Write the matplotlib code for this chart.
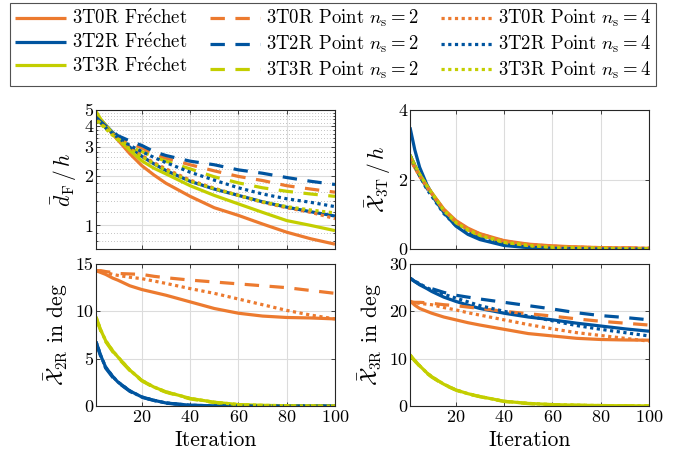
import matplotlib
matplotlib.use('Agg')
import matplotlib.pyplot as plt
from matplotlib.ticker import FixedLocator, NullFormatter

plt.rcParams['font.family'] = ['cmr10', 'DejaVu Serif']
plt.rcParams['mathtext.fontset'] = 'cm'
plt.rcParams['axes.formatter.use_mathtext'] = True

# Iteration samples
it = [1, 3, 5, 8, 10, 15, 20, 25, 30, 40, 50, 60, 70, 80, 90, 100]

# mean Frechet distance d_F / h (log axis)
df_0R_fr = [4.6, 4.3, 4.0, 3.55, 3.3, 2.72, 2.3, 2.02, 1.8, 1.5, 1.28, 1.15, 1.02, 0.91, 0.83, 0.77]
df_2R_fr = [4.7, 4.35, 4.05, 3.65, 3.42, 2.98, 2.62, 2.36, 2.15, 1.85, 1.66, 1.52, 1.39, 1.29, 1.21, 1.14]
df_3R_fr = [4.9, 4.4, 4.05, 3.6, 3.35, 2.85, 2.46, 2.22, 2.05, 1.74, 1.52, 1.35, 1.2, 1.07, 1.0, 0.93]
df_0R_p2 = [4.5, 4.25, 4.0, 3.65, 3.45, 3.15, 2.95, 2.7, 2.55, 2.33, 2.14, 1.98, 1.87, 1.74, 1.66, 1.59]
df_2R_p2 = [4.5, 4.25, 4.0, 3.7, 3.5, 3.25, 3.05, 2.8, 2.65, 2.45, 2.33, 2.17, 2.07, 1.95, 1.85, 1.77]
df_3R_p2 = [4.4, 4.15, 3.9, 3.55, 3.35, 3.0, 2.8, 2.6, 2.45, 2.2, 1.97, 1.81, 1.69, 1.61, 1.55, 1.50]
df_0R_p4 = [4.4, 4.15, 3.9, 3.55, 3.35, 2.95, 2.65, 2.4, 2.2, 1.88, 1.68, 1.52, 1.38, 1.28, 1.2, 1.10]
df_2R_p4 = [4.5, 4.2, 3.9, 3.6, 3.4, 3.05, 2.8, 2.58, 2.4, 2.1, 1.88, 1.69, 1.55, 1.45, 1.38, 1.30]
df_3R_p4 = [4.3, 4.1, 3.85, 3.5, 3.3, 2.9, 2.6, 2.37, 2.15, 1.85, 1.67, 1.52, 1.39, 1.3, 1.24, 1.19]

# translational error X_3T / h
t_0R_fr = [2.6, 2.35, 2.1, 1.8, 1.62, 1.15, 0.82, 0.6, 0.44, 0.24, 0.14, 0.09, 0.06, 0.04, 0.03, 0.02]
t_2R_fr = [3.5, 2.85, 2.35, 1.85, 1.6, 1.05, 0.66, 0.42, 0.27, 0.1, 0.04, 0.02, 0.01, 0.0, 0.0, 0.0]
t_3R_fr = [2.7, 2.4, 2.15, 1.82, 1.62, 1.12, 0.78, 0.55, 0.40, 0.2, 0.1, 0.06, 0.04, 0.02, 0.01, 0.01]
t_0R_p2 = [2.6, 2.35, 2.1, 1.8, 1.6, 1.13, 0.8, 0.58, 0.43, 0.23, 0.13, 0.08, 0.05, 0.04, 0.03, 0.02]
t_2R_p2 = [2.7, 2.4, 2.12, 1.75, 1.55, 1.05, 0.7, 0.48, 0.32, 0.14, 0.06, 0.03, 0.01, 0.0, 0.0, 0.0]
t_3R_p2 = [2.7, 2.4, 2.14, 1.8, 1.6, 1.1, 0.76, 0.54, 0.39, 0.19, 0.1, 0.05, 0.03, 0.02, 0.01, 0.01]
t_0R_p4 = [2.6, 2.34, 2.09, 1.78, 1.59, 1.12, 0.79, 0.57, 0.42, 0.22, 0.13, 0.08, 0.05, 0.04, 0.03, 0.02]
t_2R_p4 = [2.7, 2.4, 2.1, 1.72, 1.52, 1.02, 0.68, 0.46, 0.3, 0.13, 0.05, 0.02, 0.01, 0.0, 0.0, 0.0]
t_3R_p4 = [2.7, 2.41, 2.15, 1.8, 1.6, 1.1, 0.76, 0.54, 0.39, 0.19, 0.1, 0.05, 0.03, 0.02, 0.01, 0.01]

# rotational error X_2R in deg
r2_0R_fr = [14.3, 14.1, 13.9, 13.5, 13.3, 12.7, 12.3, 12.0, 11.7, 11.0, 10.3, 9.8, 9.5, 9.35, 9.3, 9.2]
r2_2R_fr = [6.8, 5.3, 4.1, 3.1, 2.55, 1.6, 0.95, 0.6, 0.32, 0.08, 0.02, 0.0, 0.0, 0.0, 0.0, 0.0]
r2_3R_fr = [9.4, 8.0, 6.9, 5.8, 5.2, 3.8, 2.7, 2.0, 1.5, 0.8, 0.4, 0.15, 0.07, 0.03, 0.01, 0.0]
r2_0R_p2 = [14.3, 14.3, 14.2, 14.1, 14.0, 13.95, 13.9, 13.7, 13.55, 13.3, 13.1, 12.9, 12.7, 12.5, 12.2, 11.9]
r2_2R_p2 = [6.7, 5.2, 4.0, 3.0, 2.5, 1.55, 0.92, 0.58, 0.3, 0.07, 0.02, 0.0, 0.0, 0.0, 0.0, 0.0]
r2_3R_p2 = [9.3, 7.9, 6.8, 5.7, 5.1, 3.75, 2.65, 1.95, 1.45, 0.75, 0.35, 0.12, 0.05, 0.02, 0.01, 0.0]
r2_0R_p4 = [14.3, 14.2, 14.1, 13.9, 13.8, 13.6, 13.45, 13.2, 12.95, 12.4, 11.9, 11.3, 10.7, 10.1, 9.6, 9.2]
r2_2R_p4 = [6.8, 5.3, 4.1, 3.1, 2.55, 1.6, 0.95, 0.6, 0.32, 0.08, 0.02, 0.0, 0.0, 0.0, 0.0, 0.0]
r2_3R_p4 = [9.4, 8.0, 6.9, 5.8, 5.2, 3.8, 2.7, 2.0, 1.5, 0.8, 0.4, 0.15, 0.07, 0.03, 0.01, 0.0]

# rotational error X_3R in deg
r3_0R_fr = [22.2, 21.3, 20.6, 20.0, 19.6, 18.8, 18.2, 17.6, 17.1, 16.2, 15.3, 14.8, 14.3, 14.05, 13.95, 13.9]
r3_2R_fr = [27.0, 26.3, 25.6, 24.8, 24.2, 23.0, 22.1, 21.3, 20.6, 19.6, 18.8, 18.2, 17.5, 16.9, 16.3, 15.8]
r3_3R_fr = [10.8, 9.6, 8.5, 7.0, 6.2, 4.6, 3.4, 2.6, 2.0, 1.0, 0.55, 0.3, 0.17, 0.1, 0.05, 0.03]
r3_0R_p2 = [22.0, 21.9, 21.9, 21.8, 21.7, 21.4, 21.2, 20.9, 20.6, 20.0, 19.5, 19.0, 18.4, 17.9, 17.5, 17.1]
r3_2R_p2 = [27.0, 26.3, 25.7, 25.1, 24.8, 24.0, 23.4, 23.0, 22.6, 21.9, 21.2, 20.5, 19.7, 19.1, 18.7, 18.2]
r3_3R_p2 = [10.7, 9.5, 8.4, 6.9, 6.1, 4.5, 3.35, 2.55, 1.95, 0.95, 0.5, 0.27, 0.15, 0.08, 0.04, 0.02]
r3_0R_p4 = [22.0, 21.8, 21.7, 21.5, 21.4, 20.8, 20.3, 19.7, 19.2, 18.2, 17.2, 16.3, 15.5, 14.9, 14.3, 13.7]
r3_2R_p4 = [27.0, 26.4, 25.8, 25.0, 24.5, 23.6, 22.8, 22.0, 21.2, 20.0, 19.0, 18.0, 17.0, 16.2, 15.5, 14.8]
r3_3R_p4 = [10.8, 9.6, 8.5, 7.0, 6.2, 4.6, 3.4, 2.6, 2.0, 1.0, 0.55, 0.3, 0.17, 0.1, 0.05, 0.03]

robots = ['3T0R', '3T2R', '3T3R']
colors = ['#EC7A2F', '#00549F', '#C3CE00']
dash = (4.5, 3.3)
dots = (1.0, 1.1)
lw = 2.3

panels = [
    [[df_0R_fr, df_2R_fr, df_3R_fr], [df_0R_p2, df_2R_p2, df_3R_p2], [df_0R_p4, df_2R_p4, df_3R_p4]],
    [[t_0R_fr, t_2R_fr, t_3R_fr], [t_0R_p2, t_2R_p2, t_3R_p2], [t_0R_p4, t_2R_p4, t_3R_p4]],
    [[r2_0R_fr, r2_2R_fr, r2_3R_fr], [r2_0R_p2, r2_2R_p2, r2_3R_p2], [r2_0R_p4, r2_2R_p4, r2_3R_p4]],
    [[r3_0R_fr, r3_2R_fr, r3_3R_fr], [r3_0R_p2, r3_2R_p2, r3_3R_p2], [r3_0R_p4, r3_2R_p4, r3_3R_p4]],
]
ylabels = [r'$\bar{d}_{\mathrm{F}}\,/\,h$', r'$\bar{\mathcal{X}}_{3\mathrm{T}}\,/\,h$',
           r'$\bar{\mathcal{X}}_{2\mathrm{R}}$ in deg', r'$\bar{\mathcal{X}}_{3\mathrm{R}}$ in deg']
ylims = [(0.72, 5), (0, 4), (0, 15), (0, 30)]
yticks = [[1, 2, 3, 4, 5], [0, 2, 4], [0, 5, 10, 15], [0, 10, 20, 30]]

fig = plt.figure(figsize=(6.88, 4.55), dpi=100)
W, H = 688, 455
boxes = [(96, 110), (410, 110), (96, 264), (410, 264)]
hgt = [139, 139, 142, 142]

handles = []
for k, (ax_data, (x0, y0)) in enumerate(zip(panels, boxes)):
    ax = fig.add_axes([x0 / W, 1 - (y0 + hgt[k]) / H, 239 / W, hgt[k] / H])
    styles = [dict(ls='-'), dict(ls=(0, dash)), dict(ls=(0, dots))]
    for m, group in enumerate(ax_data):
        for r, vals in enumerate(group):
            l, = ax.plot(it, vals, color=colors[r], lw=lw, dash_capstyle='butt',
                         solid_capstyle='butt', **styles[m])
            if k == 0:
                handles.append(l)
    if k == 0:
        ax.set_yscale('log')
        ax.yaxis.set_minor_locator(FixedLocator(
            [0.8, 0.9, 1.2, 1.4, 1.6, 1.8, 2.2, 2.4, 2.6, 2.8, 3.2, 3.4, 3.6, 3.8,
             4.2, 4.4, 4.6, 4.8]))
        ax.yaxis.set_minor_formatter(NullFormatter())
        ax.grid(True, which='minor', axis='y', ls=(0, (1, 2.5)), color='#b0b0b0', lw=0.6)
    ax.set_ylim(*ylims[k])
    ax.set_yticks(yticks[k], labels=[str(v) for v in yticks[k]])
    ax.set_xlim(1, 100)
    ax.set_xticks([20, 40, 60, 80, 100])
    if k < 2:
        ax.set_xticklabels([])
    else:
        ax.set_xlabel('Iteration', fontsize=15.5, labelpad=4)
    ax.set_ylabel(ylabels[k], fontsize=15.5, labelpad=4)
    ax.grid(True, which='major', color='#dcdcdc', lw=0.8)
    ax.set_axisbelow(True)
    ax.tick_params(direction='in', labelsize=13, length=3, width=0.6, color='#262626',
                   top=True, right=True, pad=2)
    ax.tick_params(which='minor', direction='in', length=1.5, width=0.5, right=True)
    for s in ax.spines.values():
        s.set_linewidth(0.8)
        s.set_color('#262626')

# legend order: column-wise (Frechet, n_s=2, n_s=4)
labels = [f'{r} Fr' + r'$\acute{\mathrm{e}}$' + 'chet' for r in robots] + \
         [f'{r} Point $n_\\mathrm{{s}}=2$' for r in robots] + \
         [f'{r} Point $n_\\mathrm{{s}}=4$' for r in robots]
leg = fig.legend(handles, labels, ncol=3, loc='upper left', mode='expand',
                 bbox_to_anchor=(10 / W, 1 - 3 / H, 646 / W, 0.0), fontsize=13.5,
                 frameon=True, fancybox=False, edgecolor='#262626',
                 handlelength=2.7, handletextpad=0.3, columnspacing=0.6,
                 labelspacing=0.25, borderpad=0.28, borderaxespad=0)
leg.get_frame().set_linewidth(0.8)

fig.savefig('out.png', dpi=100)
